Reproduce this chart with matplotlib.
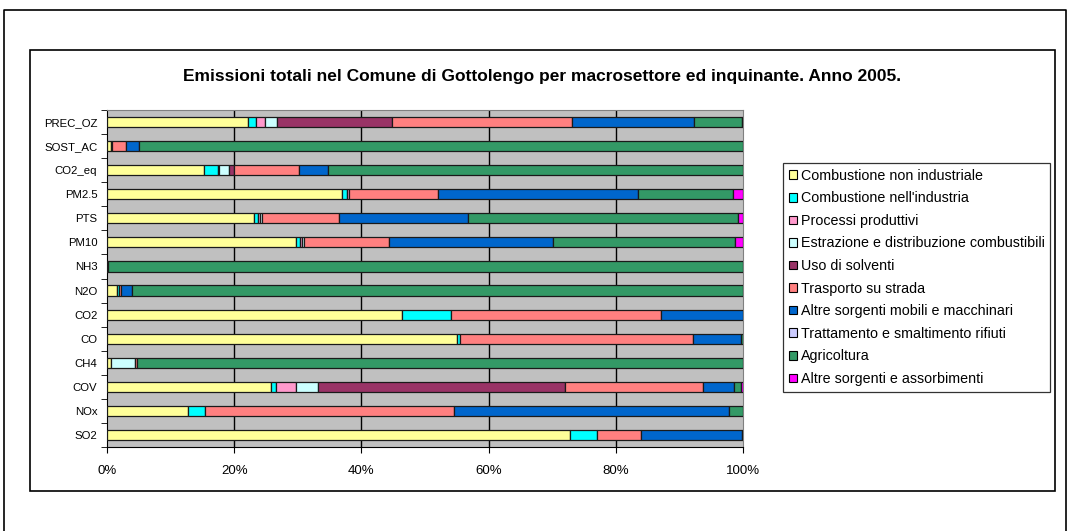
import matplotlib
matplotlib.use('Agg')
import matplotlib.pyplot as plt
import numpy as np
from matplotlib.patches import Patch, Rectangle
from matplotlib.lines import Line2D

plt.rcParams['font.family'] = ['Liberation Sans', 'DejaVu Sans']

# inquinanti, dal basso verso l'alto
inquinanti = ['SO2', 'NOx', 'COV', 'CH4', 'CO', 'CO2', 'N2O', 'NH3',
              'PM10', 'PTS', 'PM2.5', 'CO2_eq', 'SOST_AC', 'PREC_OZ']

# quote percentuali per macrosettore (stesso ordine degli inquinanti)
comb_non_ind = [72.8, 12.8, 25.8, 0.6, 55.1, 46.4, 1.6, 0.2, 29.7, 23.1, 37.0, 15.2, 0.6, 22.1]
comb_ind     = [4.2, 2.6, 0.8, 0.0, 0.4, 7.7, 0.3, 0.0, 0.6, 0.6, 0.8, 2.3, 0.2, 1.4]
processi     = [0.0, 0.0, 3.1, 0.0, 0.0, 0.0, 0.0, 0.0, 0.3, 0.3, 0.3, 0.1, 0.0, 1.4]
estrazione   = [0.0, 0.0, 3.5, 3.8, 0.0, 0.0, 0.0, 0.0, 0.3, 0.3, 0.0, 1.6, 0.0, 1.9]
solventi     = [0.0, 0.0, 38.8, 0.0, 0.0, 0.0, 0.0, 0.0, 0.0, 0.0, 0.0, 0.7, 0.0, 18.0]
trasporto    = [7.0, 39.2, 21.7, 0.3, 36.6, 33.0, 0.3, 0.0, 13.4, 12.2, 14.0, 10.3, 2.2, 28.3]
altre_mobili = [15.9, 43.2, 4.9, 0.0, 7.6, 12.9, 1.7, 0.0, 25.8, 20.2, 31.4, 4.6, 2.1, 19.2]
rifiuti      = [0.0] * 14
agricoltura  = [0.1, 2.2, 1.1, 95.3, 0.3, 0.0, 96.1, 99.8, 28.7, 42.5, 15.0, 65.2, 94.9, 7.5]
altre_sorg   = [0.0, 0.0, 0.3, 0.0, 0.0, 0.0, 0.0, 0.0, 1.2, 0.8, 1.5, 0.0, 0.0, 0.2]

settori = ['Combustione non industriale', "Combustione nell'industria",
           'Processi produttivi', 'Estrazione e distribuzione combustibili',
           'Uso di solventi', 'Trasporto su strada',
           'Altre sorgenti mobili e macchinari', 'Trattamento e smaltimento rifiuti',
           'Agricoltura', 'Altre sorgenti e assorbimenti']
colori = ['#FFFF99', '#00FFFF', '#FF99CC', '#CCFFFF', '#993366',
          '#FF8080', '#0066CC', '#CCCCFF', '#339966', '#FF00FF']
valori = [comb_non_ind, comb_ind, processi, estrazione, solventi,
          trasporto, altre_mobili, rifiuti, agricoltura, altre_sorg]

W, H = 1070, 531
fig = plt.figure(figsize=(W / 100, H / 100), dpi=100)

# cornice esterna (aperta in basso) e riquadro del grafico
fig.add_artist(Line2D([4 / W, 4 / W, 1066 / W, 1066 / W], [0, 1 - 10 / H, 1 - 10 / H, 0],
                      transform=fig.transFigure, color='black', lw=1.2))
fig.add_artist(Rectangle((30 / W, 1 - 491 / H), 1025 / W, 441 / H, transform=fig.transFigure,
                         fill=False, edgecolor='black', lw=1.2))

ax = fig.add_axes([107 / W, 1 - 447 / H, 636 / W, 337 / H])
ax.set_facecolor('#C0C0C0')

y = np.arange(len(inquinanti))
tot = np.sum(valori, axis=0)
left = np.zeros(len(inquinanti))
for nome, col, v in zip(settori, colori, valori):
    w = np.array(v) / tot * 100
    lw = np.where(w > 0, 0.9, 0.0)
    ax.barh(y, w, left=left, height=0.42, color=col, edgecolor='#1a1a1a', linewidth=lw, zorder=3)
    left += w

ax.set_xlim(0, 100)
ax.set_ylim(-0.5, len(inquinanti) - 0.5)
for xv in [20, 40, 60, 80]:
    ax.axvline(xv, color='black', lw=1.0, zorder=1)

ax.set_xticks([0, 20, 40, 60, 80, 100])
ax.set_xticklabels(['0%', '20%', '40%', '60%', '80%', '100%'], fontsize=9.5)
ax.set_yticks(y)
ax.set_yticklabels(inquinanti, fontsize=8.2)
ax.set_yticks(np.arange(-0.5, len(inquinanti), 1), minor=True)
ax.tick_params(axis='y', which='major', length=0, pad=7)
ax.tick_params(axis='y', which='minor', length=4, direction='out', color='black')
ax.tick_params(axis='x', length=4, direction='out', pad=9, color='black')
for s in ['left', 'bottom']:
    ax.spines[s].set_color('black')
for s in ['top', 'right']:
    ax.spines[s].set_color('#808080')

fig.text(542 / W, 1 - 77 / H,
         'Emissioni totali nel Comune di Gottolengo per macrosettore ed inquinante. Anno 2005.',
         ha='center', va='center', fontsize=12.5, fontweight='bold')

handles = [Patch(facecolor=c, edgecolor='black', linewidth=0.8, label=n)
           for n, c in zip(settori, colori)]
leg = fig.legend(handles=handles, loc='upper left', bbox_to_anchor=(783 / W, 1 - 163 / H),
                 fontsize=10.3, frameon=True, fancybox=False, edgecolor='black',
                 handlelength=0.55, handleheight=0.55, handletextpad=0.3,
                 labelspacing=0.6, borderpad=0.4, borderaxespad=0)
leg.get_frame().set_linewidth(0.9)

fig.savefig('out.png', dpi=100)
